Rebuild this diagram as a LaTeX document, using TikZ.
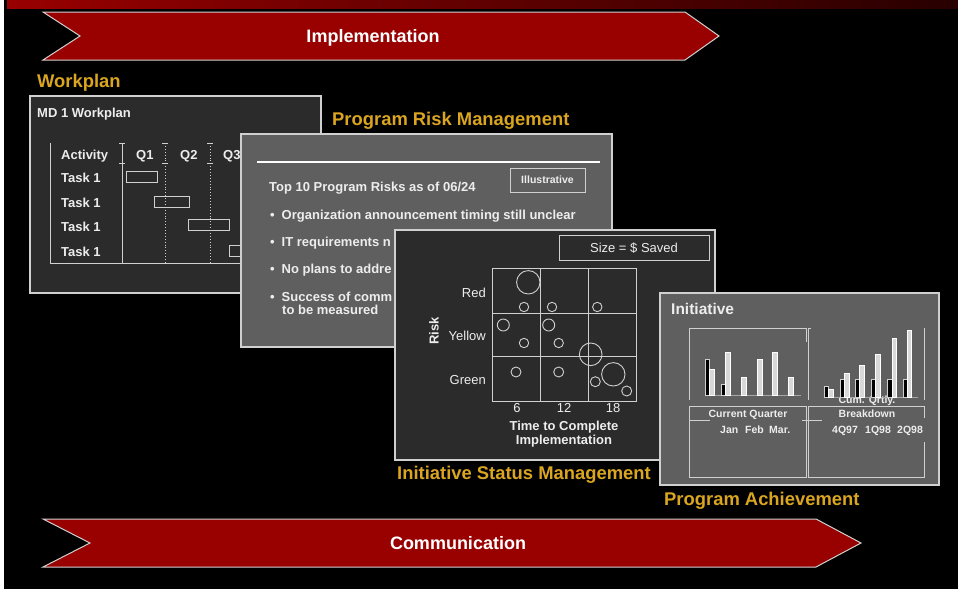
\documentclass[tikz,border=0pt]{standalone}
\usepackage{fontspec}
\setmainfont{Liberation Sans}
\definecolor{chev}{HTML}{990000}
\definecolor{chevdark}{HTML}{280000}
\definecolor{gold}{RGB}{218,165,32}
\definecolor{pdark}{HTML}{2B2B2B}
\definecolor{pmid}{HTML}{5F5F5F}
\definecolor{edgec}{HTML}{D0D0D0}
\definecolor{txtc}{HTML}{EDEDED}
\definecolor{barlight}{HTML}{D8D8D8}
\begin{document}
\begin{tikzpicture}[x=1pt,y=-1pt,
  chevron/.style={fill=chev, draw=edgec, line width=1pt},
  bandtxt/.style={font=\fontsize{18}{20}\selectfont\bfseries, text=white, inner sep=0, anchor=base},
  lbl/.style={font=\fontsize{18.4}{20}\selectfont\bfseries, text=gold, inner sep=0, anchor=base west},
  ptxt/.style={font=\fontsize{13}{15}\selectfont\bfseries, text=txtc, inner sep=0, anchor=base west},
  prg/.style={font=\fontsize{13}{15}\selectfont, text=txtc, inner sep=0, anchor=base},
  small/.style={font=\fontsize{10.5}{12}\selectfont\bfseries, text=txtc, inner sep=0, anchor=base},
  panel/.style={draw=edgec, line width=1.3pt},
  gl/.style={draw=edgec, line width=0.9pt},
  ganttbar/.style={draw=edgec, line width=0.9pt},
  bubble/.style={draw=edgec, line width=0.9pt},
  bbar/.style={draw=edgec, fill=black, line width=0.6pt},
  lbar/.style={draw=white, fill=barlight, line width=0.6pt}
]
\useasboundingbox (0,0) rectangle (958,589);
\fill[black] (0,0) rectangle (958,589);
\fill[white] (0,0) rectangle (4,589);
\shade[left color=chev, right color=chevdark] (7,0) rectangle (958,8);

% top chevron
\draw[chevron] (43,12) -- (685,12) -- (719,36) -- (685,60) -- (43,60) -- (80,36) -- cycle;
\node[bandtxt] (impl) at (373,42.5) {Implementation};

% bottom chevron
\draw[chevron] (43,519) -- (816,519) -- (861,543) -- (816,567) -- (43,567) -- (90,543) -- cycle;
\node[bandtxt] (comm) at (458,549.5) {Communication};

% ---------- Workplan panel
\node[lbl] (lwp) at (37,87) {Workplan};
\draw[panel, fill=pdark] (30,96) rectangle (321,293);
\node[ptxt] (mdt) at (37,117) {MD 1 Workplan};
\draw[gl] (50,143) -- (50,263) -- (300,263);
\draw[gl] (122,143) -- (122,263);
\draw[gl] (119,143) -- (125,143) (119,163) -- (125,163);
\draw[gl, dotted] (165,143) -- (165,263);
\draw[gl] (162,143) -- (168,143) (162,163) -- (168,163);
\draw[gl, dotted] (210,143) -- (210,263);
\draw[gl] (207,143) -- (213,143) (207,163) -- (213,163);
\node[ptxt] (act) at (61,159) {Activity};
\node[ptxt] (q1) at (136,159) {Q1};
\node[ptxt] (q2) at (180,159) {Q2};
\node[ptxt] (q3) at (223,159) {Q3};
\node[ptxt] (t1) at (61,182) {Task 1};
\node[ptxt] (t2) at (61,207) {Task 1};
\node[ptxt] (t3) at (61,231) {Task 1};
\node[ptxt] (t4) at (61,256) {Task 1};
\draw[ganttbar] (126,171) rectangle (157,182);
\draw[ganttbar] (154,196) rectangle (189,207);
\draw[ganttbar] (188,219) rectangle (229,230);
\draw[ganttbar] (229,245) rectangle (262,256);

% ---------- Risk panel
\node[lbl] (lrisk) at (332,125) {Program Risk Management};
\draw[panel, fill=pmid] (241,134) rectangle (612,347);
\draw[white, line width=2.5pt] (257,162) -- (600,162);
\draw[gl] (510,168) rectangle (585,192);
\node[small] (illu) at (547.5,183.5) {Illustrative};
\node[ptxt] (top10) at (269,191.5) {Top 10 Program Risks as of 06/24};
\node[ptxt] (b1) at (270,219) {•\hspace{7pt}Organization announcement timing still unclear};
\node[ptxt] (b2) at (270,246) {•\hspace{7pt}IT requirements n};
\node[ptxt] (b3) at (270,273) {•\hspace{7pt}No plans to addre};
\node[ptxt] (b4) at (270,301) {•\hspace{7pt}Success of comm};
\node[ptxt] (b4b) at (282,314) {to be measured};

% ---------- Status panel
\draw[panel, fill=pdark] (395,230) rectangle (715,460);
\draw[gl] (559,235) rectangle (709,260);
\node[prg] (size) at (634,252.5) {Size = \$ Saved};
\draw[gl] (492,268) rectangle (636,401);
\draw[gl] (540,268) -- (540,401) (588,268) -- (588,401);
\draw[gl] (492,313) -- (636,313) (492,356) -- (636,356);
\node[prg, anchor=base east] (red) at (486,297) {Red};
\node[prg, anchor=base east] (yel) at (486,340) {Yellow};
\node[prg, anchor=base east] (grn) at (486,384) {Green};
\node[font=\fontsize{13}{15}\selectfont\bfseries, text=txtc, inner sep=0, rotate=90] (riskax) at (434,331) {Risk};
\node[prg] (c6) at (517,412.5) {6};
\node[prg] (c12) at (564,412.5) {12};
\node[prg] (c18) at (613,412.5) {18};
\node[ptxt, anchor=base] (ttc) at (564,430.5) {Time to Complete};
\node[ptxt, anchor=base] (timpl) at (564,444) {Implementation};
\draw[bubble] (528.3,282.3) circle (11.7);
\draw[bubble] (524,307) circle (4.7);
\draw[bubble] (552,307) circle (4.7);
\draw[bubble] (597.3,307) circle (4.7);
\draw[bubble] (503.3,325) circle (6);
\draw[bubble] (548.7,325) circle (6);
\draw[bubble] (524,343) circle (4.7);
\draw[bubble] (558.7,343) circle (4.7);
\draw[bubble] (590.7,354.3) circle (11.3);
\draw[bubble] (516,372) circle (5);
\draw[bubble] (558.7,372) circle (5);
\draw[bubble] (613.3,374.3) circle (11.7);
\draw[bubble] (595.3,381.7) circle (5);
\draw[bubble] (626.7,391) circle (5);
\node[lbl] (lstat) at (397,479) {Initiative Status Management};

% ---------- Achievement panel
\draw[panel, fill=pmid] (660,293) rectangle (939,485);
\node[font=\fontsize{15.5}{18}\selectfont\bfseries, text=txtc, inner sep=0, anchor=base west] (init) at (671,314) {Initiative};
% chart frames
\draw[gl] (689,400) -- (689,328) -- (806,328) -- (806,342);
\draw[gl] (808,400) -- (808,328) -- (811,328);
\draw[gl] (924,328) -- (924,400);
% lower boxes
\draw[gl] (689,406) rectangle (806,477);
\draw[gl] (808,477) -- (808,406) -- (924,406) -- (924,418);
\draw[gl] (924,442) -- (924,477) -- (808,477);
\draw[gl] (689,420) -- (710,420) (802,420) -- (822,420);
% left bars
\draw[draw=gray!70, line width=1pt] (705,395) -- (801,395);
\draw[bbar] (705,359) rectangle (709,395);
\draw[lbar] (709,369) rectangle (714,395);
\draw[bbar] (721,384) rectangle (725,395);
\draw[lbar] (725,352) rectangle (730,395);
\draw[lbar] (741,377) rectangle (746,395);
\draw[lbar] (757,359) rectangle (762,395);
\draw[lbar] (772,352) rectangle (777,395);
\draw[lbar] (788,377) rectangle (793,395);
% right bars
\node[small] (cum) at (867,403) {Cum. Qrtly.};
\draw[draw=gray!70, line width=1pt] (824,397) -- (918,397);
\draw[bbar] (824,386) rectangle (828,397);
\draw[lbar] (828,389) rectangle (833,397);
\draw[bbar] (840,379) rectangle (844,397);
\draw[lbar] (844,373) rectangle (849,397);
\draw[bbar] (855,379) rectangle (859,397);
\draw[lbar] (859,365) rectangle (864,397);
\draw[bbar] (871,379) rectangle (875,397);
\draw[lbar] (875,354) rectangle (880,397);
\draw[bbar] (887,379) rectangle (892,397);
\draw[lbar] (892,338) rectangle (896,397);
\draw[bbar] (903,379) rectangle (907,397);
\draw[lbar] (907,330) rectangle (911,397);
\node[small] (cq) at (748,417.3) {Current Quarter};
\node[small] (bd) at (867,417.3) {Breakdown};
\node[small, anchor=base west] (jan) at (720,433.3) {Jan};
\node[small, anchor=base west] (feb) at (745,433.3) {Feb};
\node[small, anchor=base west] (mar) at (769,433.3) {Mar.};
\node[small, anchor=base west] (q497) at (832,433.3) {4Q97};
\node[small, anchor=base west] (q198) at (865,433.3) {1Q98};
\node[small, anchor=base west] (q298) at (897,433.3) {2Q98};
\node[lbl] (lach) at (664,505) {Program Achievement};
\end{tikzpicture}
\end{document}
